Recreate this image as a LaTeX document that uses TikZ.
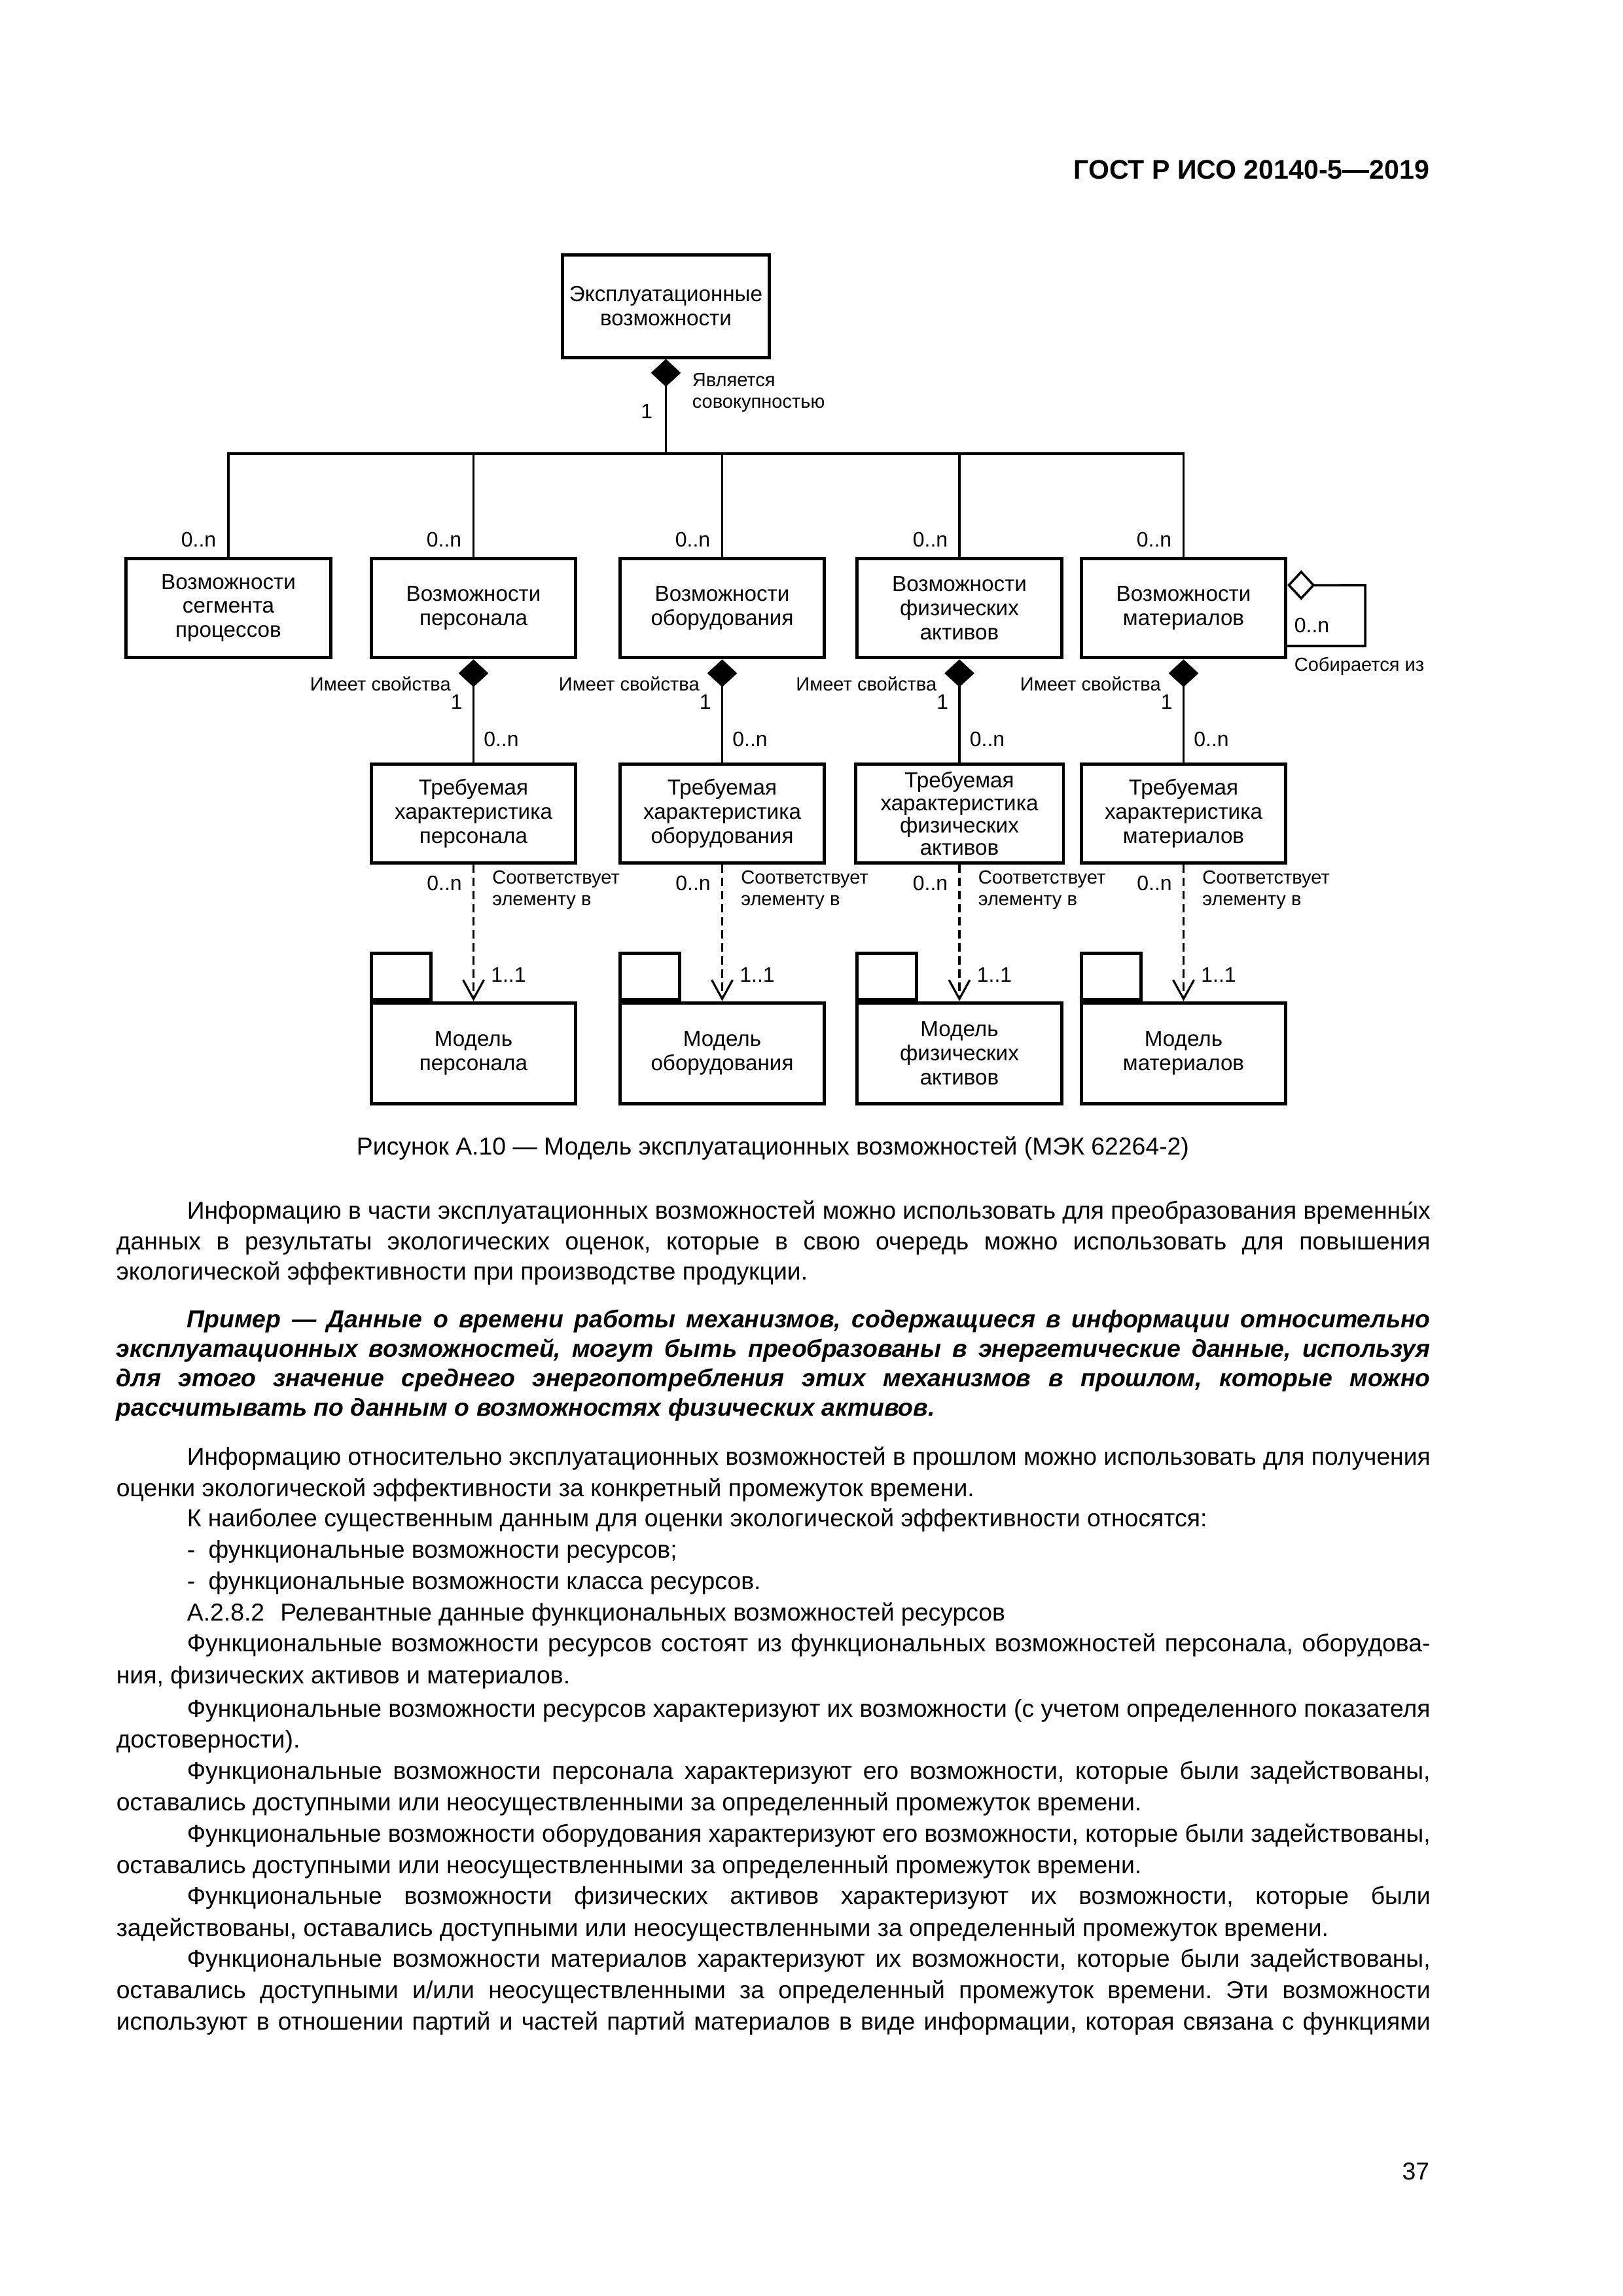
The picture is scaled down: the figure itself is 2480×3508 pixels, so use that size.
\documentclass[tikz,border=0pt]{standalone}
\usepackage{fontspec}
\setmainfont{Liberation Sans}
\usepackage{graphicx}
\usetikzlibrary{arrows.meta}
\frenchspacing
\newsavebox\fitbox
\newcommand\fitline[2]{\sbox\fitbox{#2}\ifdim\wd\fitbox>#1\relax\pgfmathsetmacro\fitr{#1/(\the\wd\fitbox)}\scalebox{\fitr}[1]{\usebox\fitbox}\else\makebox[#1][s]{#2}\fi}
\newcommand\FW{483.7pt}
\newcommand\IW{457.7pt}
\begin{document}
\begin{tikzpicture}[x=0.2409pt,y=-0.2409pt]
\tikzset{
 bx/.style={draw,line width=1.2pt,minimum width=75.2pt,minimum height=36.6pt,inner sep=0pt,align=center,font=\fontsize{8}{8.9}\selectfont},
 pkgtab/.style={draw,line width=1.2pt,minimum width=21.9pt,minimum height=16.9pt,inner sep=0pt},
 conn/.style={line width=0.85pt},
 comp/.style={{Diamond[length=10.2pt 0,width=11pt 0]}-},
 aggr/.style={{Diamond[open,length=10.2pt 0,width=11pt 0]}-},
 dep/.style={line width=0.77pt,dash pattern=on 3.1pt off 1.7pt,-{Straight Barb[length=7pt 0,width=7.7pt 0]}},
 mult/.style={inner sep=0pt,font=\fontsize{7.7}{9}\selectfont},
 lbl/.style={inner sep=0pt,align=left,font=\fontsize{7}{8}\selectfont},
 body/.style={anchor=mid west,inner sep=0pt,font=\fontsize{9}{11}\selectfont},
 bodybi/.style={anchor=mid west,inner sep=0pt,font=\fontsize{9}{11}\selectfont\bfseries\itshape},
}
\fill[white] (0,0) rectangle (2480,3508);
\useasboundingbox (0,0) rectangle (2480,3508);

% header
\node[anchor=base east,inner sep=0pt,font=\fontsize{9.9}{12}\selectfont\bfseries] (hdr) at (2185,273) {ГОСТ Р ИСО 20140-5—2019};

% ---------- diagram ----------
\node[bx,minimum width=75.9pt,minimum height=37.6pt] (T) at (1017.5,468) {Эксплуатационные\\возможности};
\coordinate (bus) at (1017.5,693);

\node[bx] (B1) at (349,929) {Возможности\\сегмента\\процессов};
\node[bx] (B2) at (723.5,929) {Возможности\\персонала};
\node[bx] (B3) at (1103.5,929) {Возможности\\оборудования};
\node[bx] (B4) at (1466,929) {Возможности\\физических\\активов};
\node[bx] (B5) at (1808.5,929) {Возможности\\материалов};

\node[bx] (R1) at (723.5,1243) {Требуемая\\характеристика\\персонала};
\node[bx] (R2) at (1103.5,1243) {Требуемая\\характеристика\\оборудования};
\node[bx,minimum width=76.6pt,font=\fontsize{8}{8.2}\selectfont] (R3) at (1466,1243) {Требуемая\\характеристика\\физических\\активов};
\node[bx] (R4) at (1808.5,1243) {Требуемая\\характеристика\\материалов};

\node[bx,minimum height=37.1pt] (P1) at (723.5,1609) {Модель\\персонала};
\node[bx,minimum height=37.1pt] (P2) at (1103.5,1609) {Модель\\оборудования};
\node[bx,minimum height=37.1pt] (P3) at (1466,1609) {Модель\\физических\\активов};
\node[bx,minimum height=37.1pt] (P4) at (1808.5,1609) {Модель\\материалов};
\foreach \p in {P1,P2,P3,P4}{\node[pkgtab,anchor=south west] (\p t) at (\p.north west) {};}

% composition from top
\draw[conn,comp] (T.south) -- (bus);
\draw[conn] (B1.north) -- (B1.north |- bus) -- (B5.north |- bus) -- (B5.north);
\foreach \b in {B2,B3,B4}{\draw[conn] (\b.north) -- (\b.north |- bus);}
\node[lbl,anchor=west] (isagg) at (1057,600) {Является\\совокупностью};
\node[mult,anchor=east] (m0) at (998,628) {1};
\node[mult,anchor=east] (t1) at (331,824) {0..n};
\node[mult,anchor=east] (t2) at (706,824) {0..n};
\node[mult,anchor=east] (t3) at (1086,824) {0..n};
\node[mult,anchor=east] (t4) at (1449,824) {0..n};
\node[mult,anchor=east] (t5) at (1791,824) {0..n};

% property compositions and dependencies
\foreach \b/\r/\p/\x in {B2/R1/P1/723.5,B3/R2/P2/1103.5,B4/R3/P3/1466,B5/R4/P4/1808.5}{
  \draw[conn,comp] (\b.south) -- (\r.north);
  \draw[dep] (\r.south) -- (\p.north);
  \node[lbl,anchor=east] at (\x-34,1045) {Имеет свойства};
  \node[mult,anchor=east] at (\x-16,1072) {1};
  \node[mult,anchor=west] at (\x+15,1129) {0..n};
  \node[mult,anchor=east] at (\x-17,1349) {0..n};
  \node[lbl,anchor=west] at (\x+28,1360) {Соответствует\\элементу в};
  \node[mult,anchor=west] at (\x+26,1489) {1..1};
}

% self aggregation on materials
\coordinate (La) at ([yshift=8.43pt]B5.east);
\coordinate (Lb) at ([yshift=-13.97pt]B5.east);
\coordinate (Lc) at (2086,894);
\coordinate (Ld) at (2086,987);
\draw[conn,aggr] (La) -- (Lc) -- (Ld) -- (Lb);
\node[mult,anchor=west] (sm) at (1977,955) {0..n};
\node[lbl,anchor=west] (sl) at (1977,1018) {Собирается из};

% caption
\node[anchor=mid,inner sep=0pt,font=\fontsize{9}{11}\selectfont] (cap) at (1181,1754) {Рисунок А.10 — Модель эксплуатационных возможностей (МЭК 62264-2)};

% ---------- body text ----------
\node[body] (l1) at (285,1852) {\fitline{\IW}{Информацию в части эксплуатационных возможностей можно использовать для преобразования временны́х}};
\node[body] (l2) at (177,1899) {\fitline{\FW}{данных в результаты экологических оценок, которые в свою очередь можно использовать для повышения}};
\node[body] (l3) at (177,1945) {экологической эффективности при производстве продукции.};
\node[bodybi] (l4) at (285,2018) {\fitline{\IW}{Пример — Данные о времени работы механизмов, содержащиеся в информации относительно}};
\node[bodybi] (l5) at (177,2063) {\fitline{\FW}{эксплуатационных возможностей, могут быть преобразованы в энергетические данные, используя}};
\node[bodybi] (l6) at (177,2108) {\fitline{\FW}{для этого значение среднего энергопотребления этих механизмов в прошлом, которые можно}};
\node[bodybi] (l7) at (177,2153) {рассчитывать по данным о возможностях физических активов.};
\node[body] (l8) at (285,2228) {\fitline{\IW}{Информацию относительно эксплуатационных возможностей в прошлом можно использовать для получения}};
\node[body] (l9) at (177,2276) {оценки экологической эффективности за конкретный промежуток времени.};
\node[body] (l10) at (285,2322) {К наиболее существенным данным для оценки экологической эффективности относятся:};
\node[body] (l11) at (285,2370) {-\hspace{4.9pt}функциональные возможности ресурсов;};
\node[body] (l12) at (285,2418) {-\hspace{4.9pt}функциональные возможности класса ресурсов.};
\node[body] (l13) at (285,2466) {А.2.8.2\hspace{5.8pt}Релевантные данные функциональных возможностей ресурсов};
\node[body] (l14) at (285,2513) {\fitline{\IW}{Функциональные возможности ресурсов состоят из функциональных возможностей персонала, оборудова-}};
\node[body] (l15) at (177,2562) {ния, физических активов и материалов.};
\node[body] (l16) at (285,2612) {\fitline{\IW}{Функциональные возможности ресурсов характеризуют их возможности (с учетом определенного показателя}};
\node[body] (l17) at (177,2660) {достоверности).};
\node[body] (l18) at (285,2707) {\fitline{\IW}{Функциональные возможности персонала характеризуют его возможности, которые были задействованы,}};
\node[body] (l19) at (177,2755) {оставались доступными или неосуществленными за определенный промежуток времени.};
\node[body] (l20) at (285,2803) {\fitline{\IW}{Функциональные возможности оборудования характеризуют его возможности, которые были задействованы,}};
\node[body] (l21) at (177,2851) {оставались доступными или неосуществленными за определенный промежуток времени.};
\node[body] (l22) at (285,2898) {\fitline{\IW}{Функциональные возможности физических активов характеризуют их возможности, которые были}};
\node[body] (l23) at (177,2947) {задействованы, оставались доступными или неосуществленными за определенный промежуток времени.};
\node[body] (l24) at (285,2994) {\fitline{\IW}{Функциональные возможности материалов характеризуют их возможности, которые были задействованы,}};
\node[body] (l25) at (177,3042) {\fitline{\FW}{оставались доступными и/или неосуществленными за определенный промежуток времени. Эти возможности}};
\node[body] (l26) at (177,3090) {\fitline{\FW}{используют в отношении партий и частей партий материалов в виде информации, которая связана с функциями}};

\node[anchor=base east,inner sep=0pt,font=\fontsize{9}{11}\selectfont] (pg) at (2185,3330) {37};
\end{tikzpicture}
\end{document}
